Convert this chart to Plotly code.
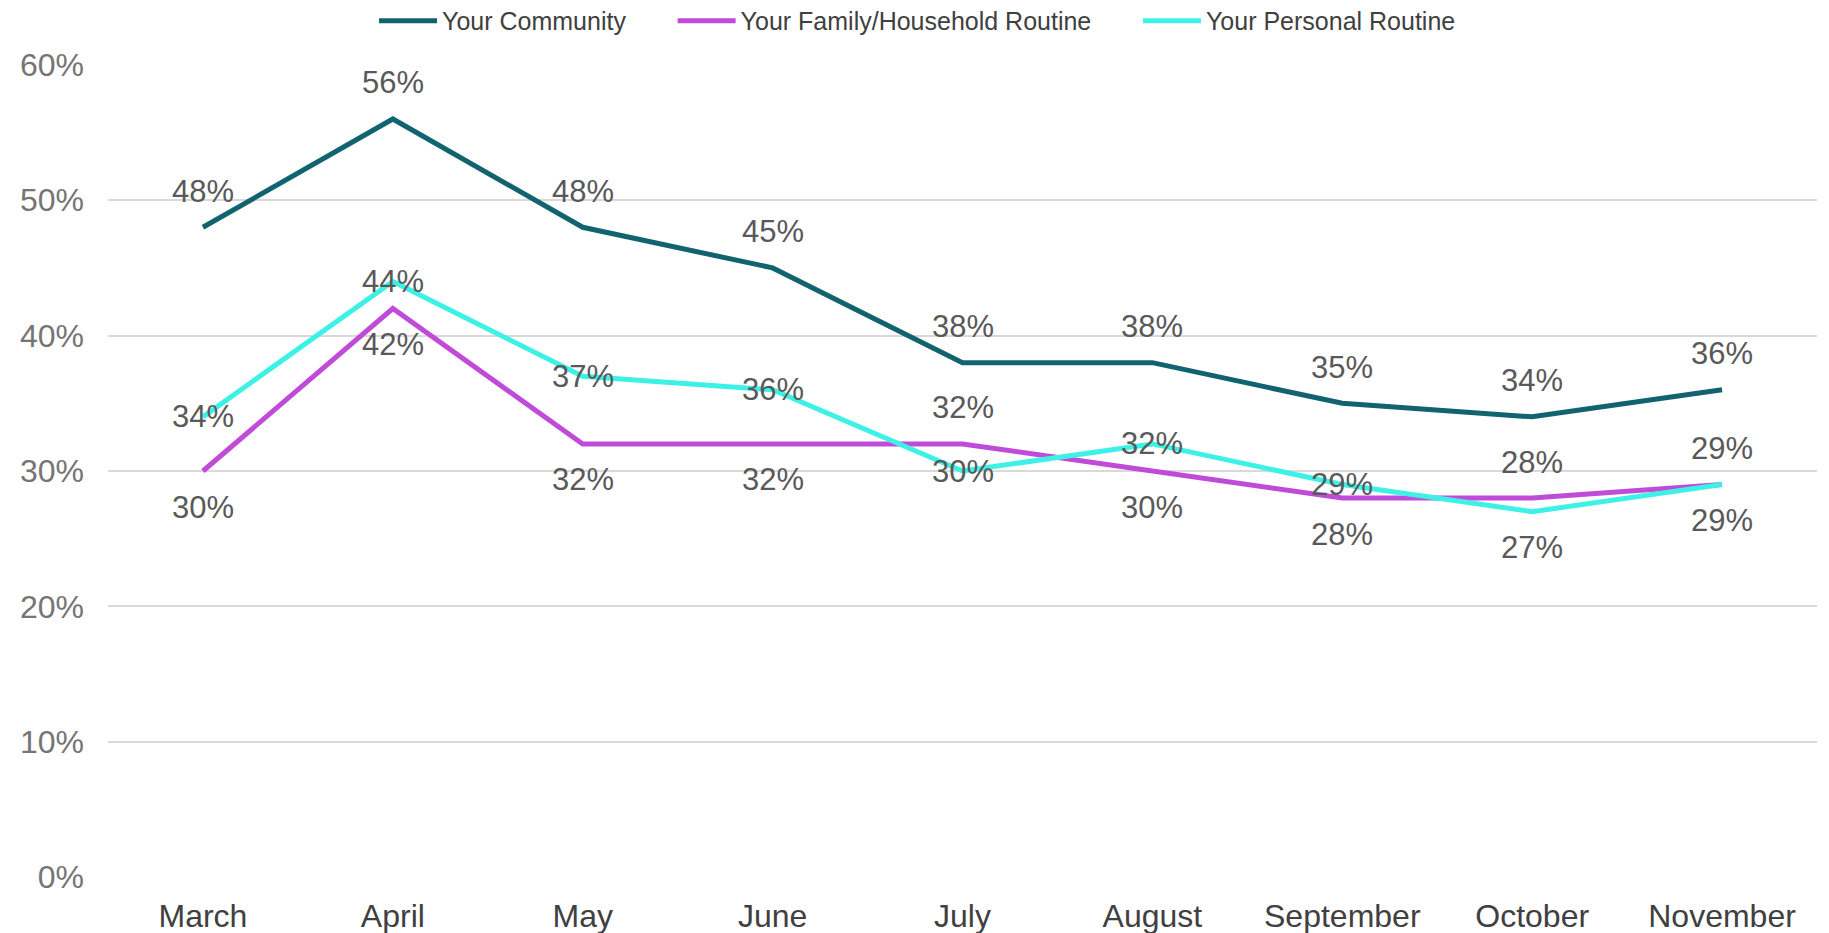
import plotly.graph_objects as go

months = ["March", "April", "May", "June", "July", "August", "September", "October", "November"]
community = [48, 56, 48, 45, 38, 38, 35, 34, 36]
family = [30, 42, 32, 32, 32, 30, 28, 28, 29]
personal = [34, 44, 37, 36, 30, 32, 29, 27, 29]
series_names = ["Your Community", "Your Family/Household Routine", "Your Personal Routine"]
colors = ["#11636F", "#C04BD8", "#3DF1E7"]
# label placement per point: +1 above, -1 below, 0 centered
community_pos = [1, 1, 1, 1, 1, 1, 1, 1, 1]
family_pos = [-1, -1, -1, -1, 1, -1, -1, 1, 1]
personal_pos = [0, 0, 0, 0, 0, 0, 0, -1, -1]
y_ticks = [0, 10, 20, 30, 40, 50, 60]

FONT = "Liberation Sans, Arial"
PAD = "\u00a0" * 6  # legend spacing between entries

fig = go.Figure()
all_series = [community, family, personal]
all_pos = [community_pos, family_pos, personal_pos]
for i, (name, vals, col) in enumerate(zip(series_names, all_series, colors)):
    label = name + (PAD if i < len(series_names) - 1 else "")
    fig.add_trace(go.Scatter(x=months, y=vals, name=label, mode="lines",
                             line=dict(color=col, width=5)))

annotations = []
for vals, pos in zip(all_series, all_pos):
    for m, v, p in zip(months, vals, pos):
        annotations.append(dict(x=m, y=v, text=f"{v}%", showarrow=False,
                                yshift=p * 36,
                                font=dict(family=FONT, size=31, color="#595959")))

# page body has an 8px default margin, so the figure is offset by 8px
fig.update_layout(
    width=1821, height=925,
    margin=dict(l=100, r=12, t=56, b=55, autoexpand=False),
    plot_bgcolor="white", paper_bgcolor="white",
    font=dict(family=FONT),
    annotations=annotations,
    legend=dict(orientation="h", x=0.4737, xanchor="center", y=0.986, yanchor="middle",
                yref="container", font=dict(size=25, color="#404040"),
                traceorder="normal", itemwidth=58),
    xaxis=dict(range=[-0.5, 8.5], showgrid=False, showline=False, zeroline=False,
               tickfont=dict(size=32, color="#404040"), ticks="", ticklabelstandoff=16,
               automargin=False),
    yaxis=dict(range=[-0.06, 60.06], tickvals=y_ticks, ticktext=[f"{t}%" for t in y_ticks],
               showgrid=True, gridcolor="#D9D9D9", gridwidth=2, zeroline=False, showline=False,
               tickfont=dict(size=32, color="#757575"), ticks="", ticklabelstandoff=23,
               automargin=False),
)

fig.write_html("out.html")
